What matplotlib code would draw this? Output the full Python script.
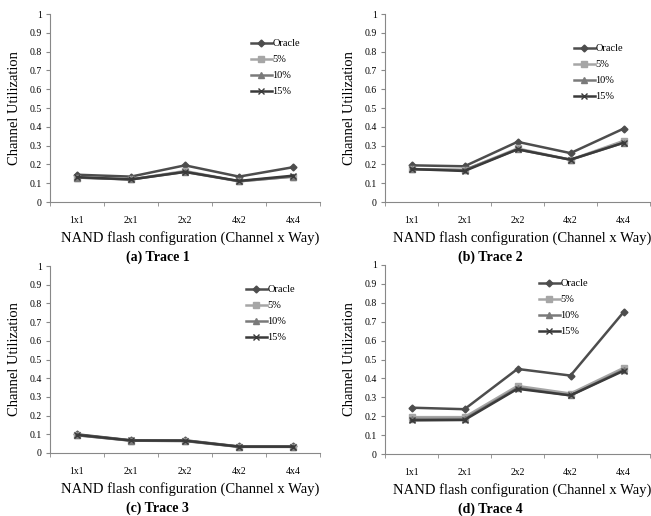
import matplotlib.pyplot as plt
import numpy as np

plt.rcParams['font.family'] = ['Liberation Serif', 'DejaVu Serif']

configs = ['1x1', '2x1', '2x2', '4x2', '4x4']
series_names = ['Oracle', '5%', '10%', '15%']

# channel utilization per trace, one list per series
trace1 = {
    'Oracle': [0.145, 0.135, 0.195, 0.135, 0.185],
    '5%':     [0.130, 0.120, 0.165, 0.110, 0.135],
    '10%':    [0.130, 0.120, 0.160, 0.110, 0.135],
    '15%':    [0.132, 0.120, 0.160, 0.112, 0.140],
}
trace2 = {
    'Oracle': [0.195, 0.190, 0.320, 0.260, 0.390],
    '5%':     [0.175, 0.170, 0.285, 0.225, 0.325],
    '10%':    [0.175, 0.170, 0.280, 0.225, 0.315],
    '15%':    [0.175, 0.165, 0.280, 0.225, 0.315],
}
trace3 = {
    'Oracle': [0.100, 0.068, 0.068, 0.035, 0.035],
    '5%':     [0.095, 0.066, 0.065, 0.033, 0.033],
    '10%':    [0.095, 0.066, 0.064, 0.033, 0.033],
    '15%':    [0.097, 0.067, 0.066, 0.034, 0.034],
}
trace4 = {
    'Oracle': [0.245, 0.237, 0.450, 0.415, 0.750],
    '5%':     [0.195, 0.195, 0.360, 0.320, 0.455],
    '10%':    [0.185, 0.185, 0.350, 0.310, 0.445],
    '15%':    [0.178, 0.180, 0.345, 0.310, 0.440],
}
traces = [trace1, trace2, trace3, trace4]
titles = ['(a) Trace 1', '(b) Trace 2', '(c) Trace 3', '(d) Trace 4']

styles = {
    'Oracle': dict(color='#4d4d4d', marker='D', ms=3.5),
    '5%':     dict(color='#a6a6a6', marker='s', ms=4.5),
    '10%':    dict(color='#7a7a7a', marker='^', ms=4.5),
    '15%':    dict(color='#3a3a3a', marker='x', ms=4.5, mew=1.0),
}

W, H = 651, 516
fig = plt.figure(figsize=(W / 100, H / 100), dpi=100)

# axes boxes in pixels: left, top, right, bottom
boxes = [(50, 14, 320, 202), (385, 14, 650, 202),
         (50, 266, 320, 453), (385, 265, 650, 454)]
# legend top-left corner in pixels
legend_pos = [(251, 39), (574, 44), (246, 285), (539, 279)]

for tr, title, (l, t, r, b), (lx, ly) in zip(traces, titles, boxes, legend_pos):
    ax = fig.add_axes([l / W, 1 - b / H, (r - l) / W, (b - t) / H])
    x = np.arange(len(configs))
    for name in series_names:
        ax.plot(x, tr[name], lw=1.8, label=name, **styles[name])
    ax.set_xlim(-0.5, len(configs) - 0.5)
    ax.set_ylim(0, 1)
    ax.set_yticks(np.arange(0, 1.01, 0.1))
    ax.set_yticklabels(['0'] + ['%.1f' % v for v in np.arange(0.1, 0.95, 0.1)] + ['1'])
    ax.set_xticks(x)
    ax.set_xticklabels(configs)
    ax.set_xticks(np.arange(-0.5, len(configs), 1), minor=True)
    ax.tick_params(axis='x', which='major', length=0, labelsize=7, pad=10)
    ax.tick_params(axis='x', which='minor', length=3, color='#888888')
    ax.tick_params(axis='y', length=3, labelsize=7, color='#888888', pad=3)
    for s in ['top', 'right']:
        ax.spines[s].set_visible(False)
    for s in ['left', 'bottom']:
        ax.spines[s].set_color('#888888')
        ax.spines[s].set_linewidth(0.8)
    ax.set_ylabel('Channel Utilization', fontsize=10.5, labelpad=6)
    ax.legend(loc='upper left', bbox_to_anchor=(lx / W, 1 - ly / H),
              bbox_transform=fig.transFigure, frameon=False, fontsize=7.5,
              handlelength=2.0, handletextpad=0.05, labelspacing=0.65,
              borderpad=0, borderaxespad=0)
    cx = (l + r) / 2 + 5
    fig.text(cx / W, 1 - (b + 36) / H, 'NAND flash configuration (Channel x Way)',
             ha='center', va='center', fontsize=10.5)
    fig.text(cx / W - 0.05, 1 - (b + 55) / H, title,
             ha='center', va='center', fontsize=10, fontweight='bold')

fig.savefig('out.png', dpi=100)
